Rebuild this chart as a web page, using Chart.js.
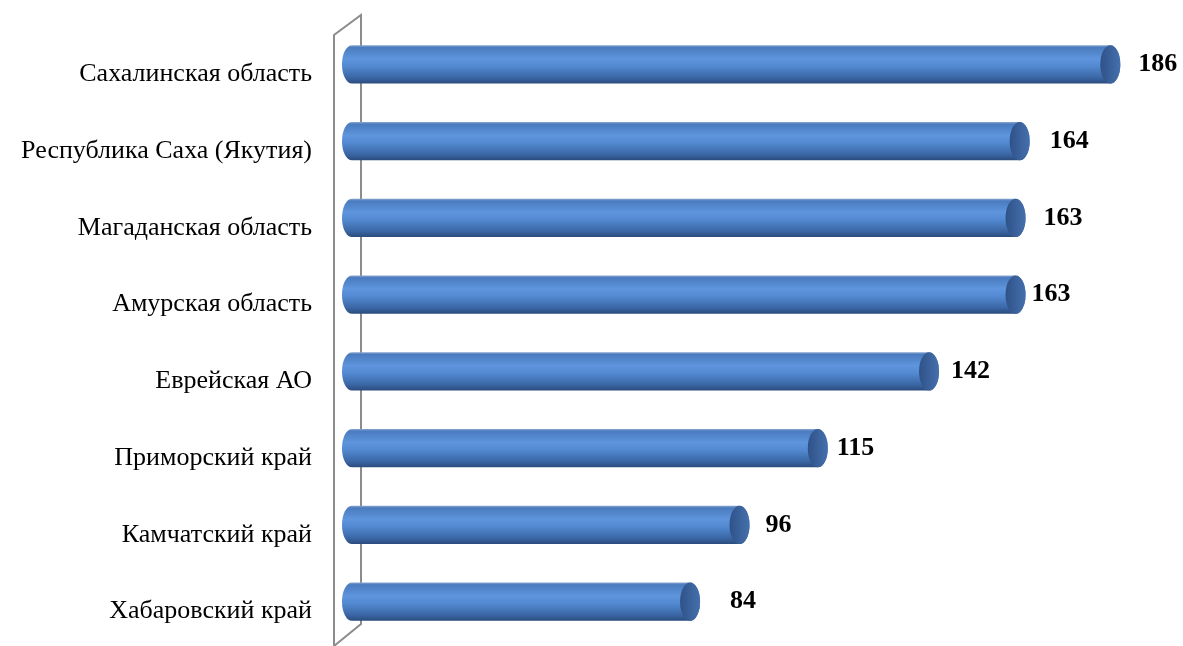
<!DOCTYPE html>
<html>
<head>
<meta charset="utf-8">
<script src="https://cdn.jsdelivr.net/npm/chart.js@4"></script>
<style>
  html, body { margin: 0; padding: 0; background: #fff; }
  #wrap { width: 1183px; height: 646px; position: relative; }
</style>
</head>
<body>
<div id="wrap"><canvas id="chart"></canvas></div>
<script>
// ── Data ──
const regions = [
  "Сахалинская область",
  "Республика Саха (Якутия)",
  "Магаданская область",
  "Амурская область",
  "Еврейская АО",
  "Приморский край",
  "Камчатский край",
  "Хабаровский край",
];
const values = [186, 164, 163, 163, 142, 115, 96, 84];

const SERIF = "'Liberation Serif', 'Times New Roman', serif";

// ── 3D wall behind the bars ──
const wallPlugin = {
  id: "wall",
  beforeDatasetsDraw(chart) {
    const { ctx, chartArea } = chart;
    const front = chartArea.left - 20;
    const back = chartArea.left + 7;
    ctx.save();
    ctx.strokeStyle = "#8c8c8c";
    ctx.lineWidth = 2;
    ctx.beginPath();
    ctx.moveTo(front, chart.height + 2);
    ctx.lineTo(front, 35);
    ctx.lineTo(back, 15);
    ctx.lineTo(back, chartArea.bottom - 16);
    ctx.lineTo(front, chartArea.bottom + 6);
    ctx.stroke();
    ctx.restore();
  },
};

// ── Cylinder bars + value labels ──
const cylinderPlugin = {
  id: "cylinder",
  afterDatasetsDraw(chart, args, opts) {
    const { ctx } = chart;
    const meta = chart.getDatasetMeta(0);
    meta.data.forEach((bar, i) => {
      const { x, y, base, height } = bar.getProps(["x", "y", "base", "height"], true);
      const r = 10;
      const hh = height / 2;
      const top = y - hh, bot = y + hh;
      const lx = base - 2;
      const rx = x - r;

      const g = ctx.createLinearGradient(0, top, 0, bot);
      g.addColorStop(0, "#8aa6cf");
      g.addColorStop(0.06, "#4a7bbf");
      g.addColorStop(0.35, "#5e95dc");
      g.addColorStop(0.55, "#5289d0");
      g.addColorStop(0.85, "#3a66a4");
      g.addColorStop(1, "#2b4b7c");

      ctx.save();
      ctx.beginPath();
      ctx.moveTo(lx, top);
      ctx.lineTo(rx, top);
      ctx.ellipse(rx, y, r, hh, 0, -Math.PI / 2, Math.PI / 2);
      ctx.lineTo(lx, bot);
      ctx.ellipse(lx, y, r, hh, 0, Math.PI / 2, Math.PI * 1.5);
      ctx.closePath();
      ctx.fillStyle = g;
      ctx.fill();

      // end cap
      const cg = ctx.createLinearGradient(rx - r, 0, rx + r, 0);
      cg.addColorStop(0, "#2f5288");
      cg.addColorStop(1, "#4570ad");
      ctx.beginPath();
      ctx.ellipse(rx, y, r, hh, 0, 0, Math.PI * 2);
      ctx.fillStyle = cg;
      ctx.fill();

      // value label
      ctx.fillStyle = "#000";
      ctx.font = "bold 26px " + SERIF;
      ctx.textAlign = "left";
      ctx.textBaseline = "middle";
      const gap = (opts.gaps && opts.gaps[i]) || 14;
      ctx.fillText(String(values[i]), x + gap, y);
      ctx.restore();
    });
  },
};

new Chart(document.getElementById("chart"), {
  type: "bar",
  data: {
    labels: regions,
    datasets: [
      {
        data: values,
        backgroundColor: "rgba(0,0,0,0)",
        borderWidth: 0,
        categoryPercentage: 1,
        barPercentage: 0.5,
      },
    ],
  },
  options: {
    indexAxis: "y",
    responsive: true,
    maintainAspectRatio: false,
    animation: false,
    layout: { padding: { top: 26, bottom: 6, right: 5, left: 0 } },
    plugins: {
      legend: { display: false },
      tooltip: { enabled: false },
      cylinder: { gaps: [18, 20, 18, 6, 12, 9, 16, 30] },
    },
    scales: {
      x: { min: 0, max: 200, display: false },
      y: {
        grid: { display: false, drawTicks: false },
        border: { display: false },
        afterFit(scale) {
          scale.width = 354;
          scale.paddingTop = 0;
          scale.paddingBottom = 0;
        },
        ticks: {
          padding: 42,
          labelOffset: 10,
          color: "#000",
          font: { family: SERIF, size: 26 },
        },
      },
    },
  },
  plugins: [wallPlugin, cylinderPlugin],
});
</script>
</body>
</html>
